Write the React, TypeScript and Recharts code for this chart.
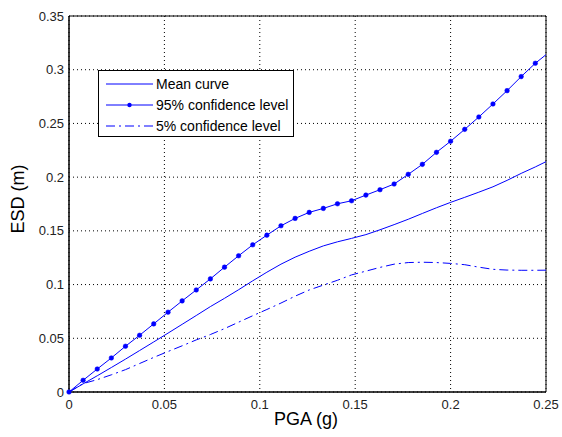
import { LineChart, Line, XAxis, YAxis, CartesianGrid, ReferenceArea } from 'recharts';

// PGA (g) sample points
const pga = [
  0, 0.0074, 0.0148, 0.0222, 0.0296, 0.037, 0.0444, 0.0519, 0.0593, 0.0667,
  0.0741, 0.0815, 0.0889, 0.0963, 0.1037, 0.1111, 0.1185, 0.1259, 0.1333, 0.1407,
  0.1481, 0.1556, 0.163, 0.1704, 0.1778, 0.1852, 0.1926, 0.2, 0.2074, 0.2148,
  0.2222, 0.2296, 0.237, 0.2444, 0.25,
];

// ESD (m)
const meanCurve = [
  0, 0.0076, 0.0151, 0.0228, 0.0306, 0.0386, 0.0466, 0.0548, 0.063, 0.0712,
  0.0795, 0.0872, 0.0952, 0.1035, 0.1115, 0.119, 0.1255, 0.131, 0.136, 0.1398,
  0.143, 0.1465, 0.151, 0.1558, 0.1608, 0.1662, 0.1715, 0.1765, 0.1812, 0.186,
  0.191, 0.197, 0.2035, 0.2095, 0.2144,
];

const conf95 = [
  0, 0.0109, 0.0214, 0.0317, 0.0426, 0.0528, 0.0634, 0.0743, 0.0848, 0.095,
  0.1053, 0.1162, 0.1268, 0.137, 0.146, 0.1547, 0.1616, 0.1672, 0.1709, 0.1752,
  0.178, 0.1833, 0.1883, 0.1936, 0.2026, 0.2119, 0.2231, 0.2334, 0.2445, 0.256,
  0.2681, 0.2805, 0.2936, 0.306, 0.314,
];

const conf5 = [
  0, 0.0078, 0.0115, 0.016, 0.0208, 0.0265, 0.0322, 0.0377, 0.043, 0.0485,
  0.0535, 0.059, 0.065, 0.071, 0.0768, 0.0828, 0.0892, 0.095, 0.0995, 0.104,
  0.109, 0.1125, 0.116, 0.119, 0.1205, 0.1208, 0.1205, 0.1197, 0.1185, 0.1162,
  0.1142, 0.1135, 0.1133, 0.1133, 0.1134,
];

const xTicks = [0, 0.05, 0.1, 0.15, 0.2, 0.25];
const yTicks = [0, 0.05, 0.1, 0.15, 0.2, 0.25, 0.3, 0.35];

const legendItems = ['Mean curve', '95% confidence level', '5% confidence level'];

const data = pga.map((x, i) => ({
  pga: x,
  mean: meanCurve[i],
  c95: conf95[i],
  c5: conf5[i],
}));

const FONT = '"Liberation Sans", Arial, sans-serif';
const BLUE = '#0000ff';
const DASH5 = '9 4 2 4';

// markers only on the sampled points, not on the end point
const markerDot = (props: any) => {
  const { cx, cy, index } = props;
  if (index >= pga.length - 1) return <g key={`d-${index}`} />;
  return <circle key={`d-${index}`} cx={cx} cy={cy} r={2.3} fill={BLUE} stroke={BLUE} strokeWidth={0.5} />;
};

function LegendBox() {
  const sample = (i: number) => {
    if (i === 0) return <line x1={0} y1={5} x2={47} y2={5} stroke={BLUE} strokeWidth={1} />;
    if (i === 1)
      return (
        <g>
          <line x1={0} y1={5} x2={47} y2={5} stroke={BLUE} strokeWidth={1} />
          <circle cx={23.5} cy={5} r={2.2} fill={BLUE} />
        </g>
      );
    return <line x1={0} y1={5} x2={47} y2={5} stroke={BLUE} strokeWidth={1} strokeDasharray={DASH5} />;
  };
  return (
    <div
      style={{
        position: 'absolute',
        left: 98,
        top: 70,
        width: 194,
        height: 65,
        background: '#fff',
        border: '1px solid #000',
        fontFamily: FONT,
        fontSize: 14,
        color: '#000',
      }}
    >
      {legendItems.map((name, i) => (
        <div
          key={name}
          style={{ position: 'absolute', left: 7, top: 4 + i * 21, height: 18, display: 'flex', alignItems: 'center' }}
        >
          <svg width={48} height={10} style={{ marginRight: 2 }}>
            {sample(i)}
          </svg>
          <span style={{ lineHeight: '18px', whiteSpace: 'nowrap' }}>{name}</span>
        </div>
      ))}
    </div>
  );
}

export default function App() {
  return (
    <div style={{ position: 'absolute', left: 0, top: 0, width: 562, height: 437, background: '#fff' }}>
      <LineChart width={562} height={437} data={data} margin={{ top: 16, right: 16, bottom: 0, left: 0 }}>
        <CartesianGrid stroke="#000" strokeDasharray="1 3" strokeWidth={1} />
        <XAxis
          dataKey="pga"
          type="number"
          domain={[0, 0.25]}
          ticks={xTicks}
          height={45}
          stroke="#000"
          tickLine={false}
          tickSize={6}
          tickMargin={2}
          tick={{ fill: '#222', fontSize: 13, fontFamily: FONT }}
          label={{
            content: () => (
              <text x={306} y={425} textAnchor="middle" fontSize={18} fontFamily={FONT} fill="#000">
                PGA (g)
              </text>
            ),
          }}
        />
        <YAxis
          type="number"
          domain={[0, 0.35]}
          ticks={yTicks}
          width={69}
          stroke="#000"
          tickLine={false}
          tickSize={4}
          tickMargin={1}
          tick={{ fill: '#222', fontSize: 13, fontFamily: FONT }}
          label={{
            content: () => (
              <text
                x={18}
                y={199}
                transform="rotate(-90 18 199)"
                textAnchor="middle"
                dominantBaseline="central"
                fontSize={18}
                fontFamily={FONT}
                fill="#000"
              >
                ESD (m)
              </text>
            ),
          }}
        />
        <ReferenceArea x1={0} x2={0.25} y1={0} y2={0.35} fill="none" stroke="#000" strokeWidth={1} />
        <Line type="linear" dataKey="mean" stroke={BLUE} strokeWidth={1} dot={false} isAnimationActive={false} />
        <Line type="linear" dataKey="c95" stroke={BLUE} strokeWidth={1} dot={markerDot} isAnimationActive={false} />
        <Line
          type="linear"
          dataKey="c5"
          stroke={BLUE}
          strokeWidth={1}
          strokeDasharray={DASH5}
          dot={false}
          isAnimationActive={false}
        />
      </LineChart>
      <LegendBox />
    </div>
  );
}
